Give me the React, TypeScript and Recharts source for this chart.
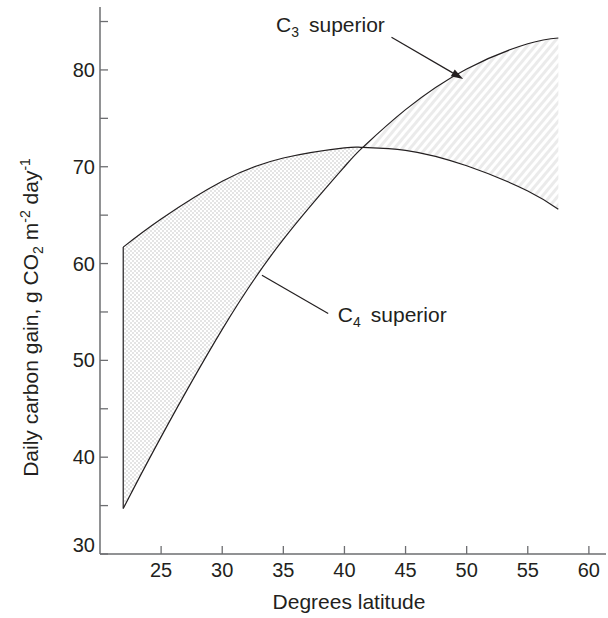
import React from 'react';
import { ComposedChart, Line, Area, XAxis, YAxis, ReferenceLine, ReferenceDot } from 'recharts';

// ---- data ----
const latitude = [21.9, 25, 30, 35, 40, 41.5, 45, 50, 55, 57.5];
const c4Gain = [61.7, 64.6, 68.5, 70.9, 71.95, 72.0, 71.7, 70.1, 67.5, 65.6];
const c3Gain = [34.7, 42.1, 53.2, 62.5, 70.0, 72.0, 75.9, 80.1, 82.7, 83.3];
const crossoverIndex = 5;

const xTicks = [25, 30, 35, 40, 45, 50, 55, 60];
const yTicks = [30, 35, 40, 45, 50, 55, 60, 65, 70, 75, 80, 85];
const yLabelled = [30, 40, 50, 60, 70, 80];
const xDomain = [20, 61.4];
const yDomain = [30, 86.5];

// annotations (data coordinates)
const c3LabelPos = { x: 34.4, y: 83.9 };
const c3Arrow = [{ x: 43.85, y: 83.38 }, { x: 49.71, y: 79.07 }];
const c4LabelPos = { x: 39.46, y: 53.98 };
const c4Leader = [{ x: 33.25, y: 58.8 }, { x: 38.67, y: 54.85 }];

const INK = '#231f20';
const AXIS = '#6d6e71';
const FONT = '"Liberation Sans", Arial, Helvetica, sans-serif';

const data = latitude.map((lat, i) => {
  const left = i <= crossoverIndex;
  const right = i >= crossoverIndex;
  return {
    lat,
    c4: c4Gain[i],
    c3: c3Gain[i],
    c4Band: left ? [c3Gain[i], c4Gain[i]] : null,
    c3Band: right ? [c4Gain[i], c3Gain[i]] : null,
  };
});

const XTick = (props: any) => {
  const { x, y, payload } = props;
  return (
    <g>
      <line x1={x} x2={x} y1={y} y2={y - 8} stroke={AXIS} strokeWidth={1.3} />
      <text x={x} y={y + 16} dy="0.35em" textAnchor="middle" fontSize={20} fill={INK} fontFamily={FONT}>
        {payload.value}
      </text>
    </g>
  );
};

const YTick = (props: any) => {
  const { x, y, payload } = props;
  const v = payload.value;
  return (
    <g>
      <line x1={x} x2={x + 8} y1={y} y2={y} stroke={AXIS} strokeWidth={1.3} />
      {yLabelled.includes(v) && (
        <text x={x - 5} y={v === 30 ? y - 9 : y} dy="0.35em" textAnchor="end" fontSize={20} fill={INK} fontFamily={FONT}>
          {v}
        </text>
      )}
    </g>
  );
};

const XLabel = (props: any) => {
  const { viewBox } = props;
  const cx = viewBox.x + viewBox.width / 2 - 4;
  const cy = viewBox.y + 54.5;
  return (
    <text x={cx} y={cy} textAnchor="middle" fontSize={21} fill={INK} fontFamily={FONT}>
      Degrees latitude
    </text>
  );
};

const YLabel = (props: any) => {
  const { viewBox } = props;
  const cx = viewBox.x + 38;
  const cy = viewBox.y + viewBox.height / 2 + 37;
  return (
    <text
      x={cx}
      y={cy}
      transform={`rotate(-90, ${cx}, ${cy})`}
      textAnchor="middle"
      fontSize={21}
      fill={INK}
      fontFamily={FONT}
    >
      Daily carbon gain, g CO
      <tspan dy={5} fontSize={14}>2</tspan>
      <tspan dy={-5}>{' m'}</tspan>
      <tspan dy={-8} fontSize={14}>-2</tspan>
      <tspan dy={8}>{' day'}</tspan>
      <tspan dy={-8} fontSize={14}>-1</tspan>
    </text>
  );
};

const ArrowShape = (p: any) => {
  const { x1, y1, x2, y2 } = p;
  const ang = Math.atan2(y2 - y1, x2 - x1);
  const len = 12;
  const half = 4;
  const bx = x2 - len * Math.cos(ang);
  const by = y2 - len * Math.sin(ang);
  const lx = bx - half * Math.sin(ang);
  const ly = by + half * Math.cos(ang);
  const rx = bx + half * Math.sin(ang);
  const ry = by - half * Math.cos(ang);
  return (
    <g>
      <line x1={x1} y1={y1} x2={bx} y2={by} stroke={INK} strokeWidth={1.2} />
      <polygon points={`${x2},${y2} ${lx},${ly} ${rx},${ry}`} fill={INK} />
    </g>
  );
};

const PlainLine = (p: any) => (
  <line x1={p.x1} y1={p.y1} x2={p.x2} y2={p.y2} stroke={INK} strokeWidth={1.2} />
);

const makeLabel = (sub: string) => (p: any) => (
  <text x={p.cx} y={p.cy} fontSize={21} fill={INK} fontFamily={FONT}>
    C
    <tspan dy={5} fontSize={14}>{sub}</tspan>
    <tspan dy={-5} dx={10}>superior</tspan>
  </text>
);

export default function App() {
  return (
    <div style={{ position: 'absolute', left: 0, top: 0 }}>
      <ComposedChart
        width={608}
        height={618}
        data={data}
        margin={{ top: 7, right: 2, bottom: 0, left: 0 }}
      >
        <defs>
          <pattern id="checker" width="4" height="4" patternUnits="userSpaceOnUse">
            <rect width="4" height="4" fill="#ffffff" />
            <rect x="0" y="0" width="2" height="2" fill="#e4e4e4" />
            <rect x="2" y="2" width="2" height="2" fill="#e4e4e4" />
          </pattern>
          <pattern id="stripes" width="6" height="6" patternUnits="userSpaceOnUse" patternTransform="rotate(40)">
            <rect width="6" height="6" fill="#ffffff" />
            <rect x="0" y="0" width="3" height="6" fill="#ebebeb" />
          </pattern>
        </defs>
        <XAxis
          type="number"
          dataKey="lat"
          domain={xDomain}
          ticks={xTicks}
          allowDataOverflow
          height={64}
          tickLine={false}
          tickSize={0}
          tickMargin={0}
          tick={<XTick />}
          axisLine={{ stroke: AXIS, strokeWidth: 1.5 }}
          label={<XLabel />}
        />
        <YAxis
          type="number"
          domain={yDomain}
          ticks={yTicks}
          allowDataOverflow
          width={100}
          tickLine={false}
          tickSize={0}
          tickMargin={0}
          tick={<YTick />}
          axisLine={{ stroke: AXIS, strokeWidth: 1.5 }}
          label={<YLabel />}
        />
        <Area
          dataKey="c4Band"
          type="natural"
          fill="url(#checker)"
          fillOpacity={1}
          stroke="none"
          isAnimationActive={false}
          activeDot={false}
        />
        <Area
          dataKey="c3Band"
          type="natural"
          fill="url(#stripes)"
          fillOpacity={1}
          stroke="none"
          isAnimationActive={false}
          activeDot={false}
        />
        <Line dataKey="c4" type="natural" stroke={INK} strokeWidth={1.2} dot={false} activeDot={false} isAnimationActive={false} />
        <Line dataKey="c3" type="natural" stroke={INK} strokeWidth={1.2} dot={false} activeDot={false} isAnimationActive={false} />
        <ReferenceLine
          segment={[{ x: latitude[0], y: c3Gain[0] }, { x: latitude[0], y: c4Gain[0] }]}
          stroke={INK}
          strokeWidth={1.2}
        />
        <ReferenceLine segment={c3Arrow} shape={ArrowShape} />
        <ReferenceLine segment={c4Leader} shape={PlainLine} />
        <ReferenceDot x={c3LabelPos.x} y={c3LabelPos.y} r={0} shape={makeLabel('3')} />
        <ReferenceDot x={c4LabelPos.x} y={c4LabelPos.y} r={0} shape={makeLabel('4')} />
      </ComposedChart>
    </div>
  );
}
